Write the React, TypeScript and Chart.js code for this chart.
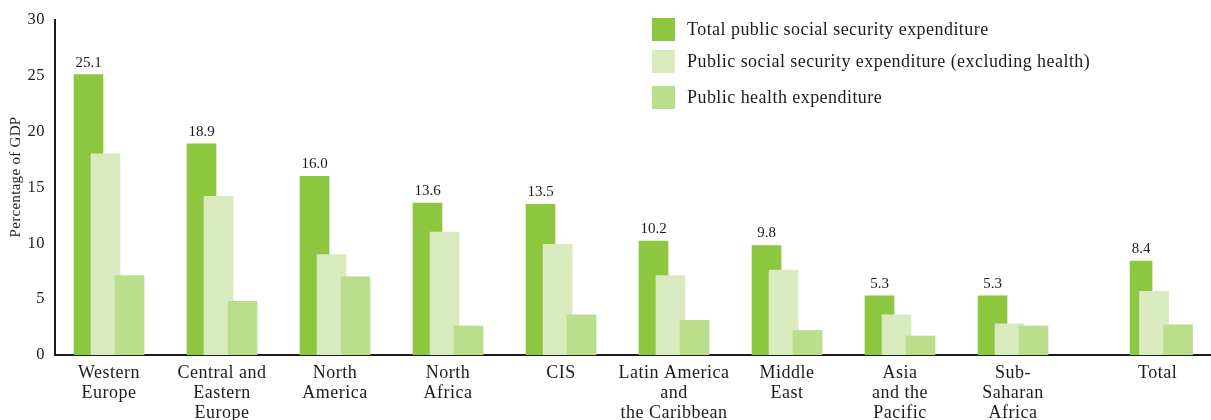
import React, { useEffect, useRef } from "react";
import { Chart, registerables } from "chart.js";

Chart.register(...registerables);

// ---------- data ----------
const categories: string[][] = [
  ["Western", "Europe"],
  ["Central and", "Eastern", "Europe"],
  ["North", "America"],
  ["North", "Africa"],
  ["CIS"],
  ["Latin America", "and", "the Caribbean"],
  ["Middle", "East"],
  ["Asia", "and the", "Pacific"],
  ["Sub-", "Saharan", "Africa"],
  ["Total"],
];
const totalExpenditure = [25.1, 18.9, 16.0, 13.6, 13.5, 10.2, 9.8, 5.3, 5.3, 8.4];
const excludingHealth = [18.0, 14.2, 9.0, 11.0, 9.9, 7.1, 7.6, 3.6, 2.8, 5.7];
const healthExpenditure = [7.1, 4.8, 7.0, 2.6, 3.6, 3.1, 2.2, 1.7, 2.6, 2.7];
const seriesLabels = [
  "Total public social security expenditure",
  "Public social security expenditure (excluding health)",
  "Public health expenditure",
];
const yTicks = [0, 5, 10, 15, 20, 25, 30];
const yTitle = "Percentage of GDP";

// ---------- style / layout ----------
const FONT = "'Liberation Serif', 'Times New Roman', serif";
const TEXT = "#1d1a1b";
const AXIS = "#1d1a1b";
const DARK = "#8dc63f";
const LIGHT = "#d9ebbe";
const MED = "#bbde8c";
const TOTAL_EXTRA_GAP = 0.279;
const X_MIN = -0.478;
const X_MAX = 9.752;
const OFF_DARK = -0.1814;
const OFF_DARK_TOTAL = -0.146;
const OFF_LIGHT = -0.031;
const OFF_MED = 0.1814;

const last = categories.length - 1;
const groupPos = categories.map((_, i) => i + (i === last ? TOTAL_EXTRA_GAP : 0));

const pts = (vals: number[], from: number, to: number) =>
  vals.slice(from, to).map((y, k) => ({ x: groupPos[from + k], y }));

const spacingPlugin = {
  id: "spacing",
  beforeDraw(chart: any) {
    chart.ctx.letterSpacing = "0.5px";
  },
};

const overlayPlugin = {
  id: "overlay",
  afterDatasetsDraw(chart: any) {
    const ctx = chart.ctx;
    ctx.save();
    // value labels above dark bars
    ctx.letterSpacing = "0px";
    ctx.fillStyle = TEXT;
    ctx.font = `15px ${FONT}`;
    ctx.textAlign = "center";
    ctx.textBaseline = "middle";
    chart.data.datasets.forEach((ds: any, di: number) => {
      if (!ds.showValues) return;
      const meta = chart.getDatasetMeta(di);
      meta.data.forEach((el: any, i: number) => {
        const v = ds.data[i].y;
        ctx.fillText(v.toFixed(1), el.x, el.y - 12);
      });
    });
    // y title
    ctx.save();
    ctx.translate(16, 177);
    ctx.rotate(-Math.PI / 2);
    ctx.letterSpacing = "0.3px";
    ctx.font = `15px ${FONT}`;
    ctx.fillText(yTitle, 0, 0);
    ctx.restore();
    // legend
    const colors = [DARK, LIGHT, MED];
    const tops = [18, 50, 86];
    ctx.textAlign = "left";
    ctx.letterSpacing = "0.45px";
    ctx.font = `18px ${FONT}`;
    seriesLabels.forEach((lab, i) => {
      ctx.fillStyle = colors[i];
      ctx.fillRect(652, tops[i], 23, 23);
      ctx.fillStyle = TEXT;
      ctx.fillText(lab, 687, tops[i] + 12.5);
    });
    ctx.restore();
  },
};

export default function App() {
  const ref = useRef<HTMLCanvasElement | null>(null);
  useEffect(() => {
    if (!ref.current) return;
    const hidden = (off: number) => ({
      type: "linear" as const,
      display: false,
      offset: false,
      bounds: "data",
      min: X_MIN - off,
      max: X_MAX - off,
      afterBuildTicks: (s: any) => {
        s.ticks = [{ value: X_MIN - off }];
      },
    });
    const chart = new Chart(ref.current, {
      type: "bar",
      data: {
        datasets: [
          {
            label: seriesLabels[0],
            data: pts(totalExpenditure, 0, last),
            backgroundColor: DARK,
            xAxisID: "xd",
            barThickness: 29,
            maxBarThickness: 29,
            order: 4,
            showValues: true,
          } as any,
          {
            label: seriesLabels[0],
            data: pts(totalExpenditure, last, last + 1),
            backgroundColor: DARK,
            xAxisID: "xdt",
            barThickness: 22,
            maxBarThickness: 22,
            order: 3,
            showValues: true,
          } as any,
          {
            label: seriesLabels[1],
            data: pts(excludingHealth, 0, last + 1),
            backgroundColor: LIGHT,
            xAxisID: "xl",
            barThickness: 29,
            maxBarThickness: 29,
            order: 2,
          },
          {
            label: seriesLabels[2],
            data: pts(healthExpenditure, 0, last + 1),
            backgroundColor: MED,
            xAxisID: "xm",
            barThickness: 29,
            maxBarThickness: 29,
            order: 1,
          },
        ],
      },
      options: {
        animation: false,
        responsive: true,
        maintainAspectRatio: false,
        grouped: false,
        barPercentage: 1,
        categoryPercentage: 1,
        layout: { padding: { top: 18, right: 0, bottom: 0, left: 0 } },
        plugins: {
          legend: { display: false },
          tooltip: { enabled: false },
        },
        scales: {
          x: {
            type: "linear",
            position: "bottom",
            offset: false,
            bounds: "data",
            min: X_MIN,
            max: X_MAX,
            z: 1,
            grid: { display: false, drawTicks: false, offset: false },
            border: { display: true, width: 2, color: AXIS },
            afterBuildTicks: (s: any) => {
              s.ticks = groupPos.map((v) => ({ value: v }));
            },
            afterFit: (s: any) => {
              s.height = 65;
            },
            ticks: {
              autoSkip: false,
              maxRotation: 0,
              minRotation: 0,
              padding: 8,
              color: TEXT,
              font: { family: FONT, size: 18, lineHeight: 1.11 },
              callback: (v: any) => {
                const i = groupPos.findIndex((p) => Math.abs(p - Number(v)) < 1e-6);
                return i >= 0 ? categories[i] : "";
              },
            },
          },
          xd: hidden(OFF_DARK),
          xdt: hidden(OFF_DARK_TOTAL),
          xl: hidden(OFF_LIGHT),
          xm: hidden(OFF_MED),
          y: {
            type: "linear",
            min: 0,
            max: 30,
            z: 1,
            grid: { display: false, drawTicks: false },
            border: { display: true, width: 2, color: AXIS },
            afterBuildTicks: (s: any) => {
              s.ticks = yTicks.map((v) => ({ value: v }));
            },
            afterFit: (s: any) => {
              s.width = 55;
            },
            ticks: {
              padding: 10,
              color: TEXT,
              font: { family: FONT, size: 16.5 },
            },
          },
        },
      } as any,
      plugins: [spacingPlugin, overlayPlugin],
    });
    return () => chart.destroy();
  }, []);

  return (
    <div style={{ position: "fixed", left: 0, top: 0, width: 1211, height: 420, background: "#fff" }}>
      <canvas ref={ref} />
    </div>
  );
}
